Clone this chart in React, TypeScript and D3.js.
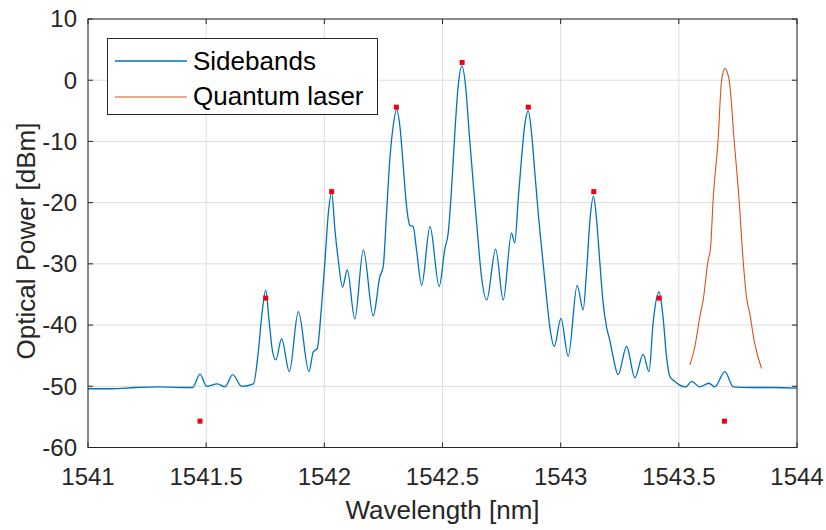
import React from "react";
import * as d3 from "d3";

// Sidebands trace (wavelength nm, optical power dBm)
const sideWl = [
  1541.0, 1541.1, 1541.2, 1541.3, 1541.4, 1541.443, 1541.474, 1541.502, 1541.547, 1541.58,
  1541.612, 1541.65, 1541.7, 1541.72, 1541.735, 1541.752, 1541.766, 1541.78, 1541.795, 1541.819,
  1541.852, 1541.89, 1541.935, 1541.953, 1541.97, 1541.989, 1542.003, 1542.017, 1542.031, 1542.045,
  1542.059, 1542.077, 1542.097, 1542.129, 1542.165, 1542.207, 1542.235, 1542.249, 1542.264, 1542.277,
  1542.291, 1542.306, 1542.32, 1542.334, 1542.348, 1542.362, 1542.376, 1542.39, 1542.412, 1542.447,
  1542.486, 1542.51, 1542.524, 1542.538, 1542.552, 1542.566, 1542.582, 1542.598, 1542.613, 1542.63,
  1542.647, 1542.665, 1542.687, 1542.725, 1542.757, 1542.792, 1542.806, 1542.82, 1542.835, 1542.849,
  1542.863, 1542.877, 1542.891, 1542.905, 1542.923, 1542.94, 1542.954, 1542.973, 1543.001, 1543.032,
  1543.07, 1543.095, 1543.11, 1543.124, 1543.139, 1543.152, 1543.166, 1543.18, 1543.194, 1543.208,
  1543.222, 1543.243, 1543.279, 1543.314, 1543.349, 1543.374, 1543.391, 1543.416, 1543.433, 1543.448,
  1543.462, 1543.483, 1543.504, 1543.53, 1543.554, 1543.589, 1543.627, 1543.652, 1543.695, 1543.73,
  1543.8, 1543.9, 1544.0,
];
const sideDbm = [
  -50.4, -50.4, -50.2, -50.1, -50.2, -50.2, -48.0, -50.0, -49.6, -50.1,
  -48.1, -50.0, -49.6, -44.6, -38.6, -34.3, -39.2, -44.1, -45.7, -42.2,
  -47.6, -37.8, -47.6, -44.4, -43.8, -36.5, -29.4, -21.7, -18.4, -24.5,
  -29.4, -33.8, -31.0, -39.0, -27.7, -38.5, -32.1, -30.5, -21.2, -13.0,
  -7.6, -4.8, -7.6, -14.1, -20.6, -23.7, -23.9, -27.7, -33.5, -23.9,
  -33.7, -27.5, -25.0, -17.9, -8.7, -1.1, 2.3, -1.1, -8.7, -16.8,
  -24.5, -32.1, -35.9, -27.6, -35.9, -25.0, -26.6, -19.6, -12.5, -7.0,
  -5.0, -8.7, -15.2, -21.7, -28.8, -35.4, -40.3, -43.5, -38.9, -45.1,
  -33.5, -37.5, -31.0, -22.8, -19.0, -22.8, -29.9, -36.5, -40.3, -42.5,
  -45.2, -48.1, -43.5, -48.6, -44.8, -47.6, -39.7, -34.6, -38.6, -45.2,
  -48.4, -49.2, -49.8, -50.1, -49.2, -50.1, -49.5, -50.1, -47.6, -50.1,
  -50.2, -50.2, -50.3,
];

// Quantum laser trace
const laserWl = [
  1543.547, 1543.568, 1543.589, 1543.603, 1543.624, 1543.634, 1543.645, 1543.666, 1543.681, 1543.695,
  1543.713, 1543.734, 1543.755, 1543.772, 1543.786, 1543.8, 1543.821, 1543.85,
];
const laserDbm = [
  -46.5, -43.5, -38.6, -35.9, -29.4, -27.5, -19.6, -9.8, 0.0, 1.9,
  0.0, -9.8, -19.6, -29.4, -35.3, -38.1, -43.0, -47.1,
];

// Red markers
const markWl = [1541.474, 1541.752, 1542.031, 1542.305, 1542.583, 1542.863, 1543.14, 1543.417, 1543.693];
const markDbm = [-55.7, -35.6, -18.2, -4.4, 2.9, -4.4, -18.2, -35.6, -55.7];

const xTicks = [1541, 1541.5, 1542, 1542.5, 1543, 1543.5, 1544];
const xTickLabels = ["1541", "1541.5", "1542", "1542.5", "1543", "1543.5", "1544"];
const yTicks = [-60, -50, -40, -30, -20, -10, 0, 10];
const yTickLabels = ["-60", "-50", "-40", "-30", "-20", "-10", "0", "10"];
const seriesNames = ["Sidebands", "Quantum laser"];

const W = 826, H = 530;
const L = 88, R = 797, T = 19, B = 447.5;
const FONT = "'Liberation Sans', Arial, Helvetica, sans-serif";
const TXT = "#262626";
const BLUE = "#0072BD";
const ORANGE = "#D95319";

export default function App() {
  const x = d3.scaleLinear().domain([1541, 1544]).range([L, R]);
  const y = d3.scaleLinear().domain([-60, 10]).range([B, T]);
  const line = d3.line<[number, number]>().x(d => x(d[0])).y(d => y(d[1])).curve(d3.curveMonotoneX);
  const sidePts = sideWl.map((w, i) => [w, sideDbm[i]] as [number, number]);
  const laserPts = laserWl.map((w, i) => [w, laserDbm[i]] as [number, number]);
  const tk = 5;
  return (
    <svg width={W} height={H} style={{ position: "absolute", left: 0, top: 0, background: "#fff" }} fontFamily={FONT}>
      <rect x={0} y={0} width={W} height={H} fill="#fff" />
      {/* grid */}
      {xTicks.map((t, i) => (
        <line key={"gx" + i} x1={x(t)} x2={x(t)} y1={T} y2={B} stroke="#dcdcdc" strokeWidth={1} />
      ))}
      {yTicks.map((t, i) => (
        <line key={"gy" + i} x1={L} x2={R} y1={y(t)} y2={y(t)} stroke="#dcdcdc" strokeWidth={1} />
      ))}
      {/* data */}
      <path d={line(sidePts) || ""} fill="none" stroke={BLUE} strokeWidth={1.3} />
      <path d={line(laserPts) || ""} fill="none" stroke={ORANGE} strokeWidth={1.1} />
      {markWl.map((w, i) => (
        <rect key={"m" + i} x={x(w) - 2.5} y={y(markDbm[i]) - 2.5} width={5} height={5} fill="#f00010" />
      ))}
      {/* box */}
      <rect x={L} y={T} width={R - L} height={B - T} fill="none" stroke={TXT} strokeWidth={1} />
      {/* ticks */}
      {xTicks.map((t, i) => (
        <g key={"tx" + i}>
          <line x1={x(t)} x2={x(t)} y1={B} y2={B - tk} stroke={TXT} />
          <line x1={x(t)} x2={x(t)} y1={T} y2={T + tk} stroke={TXT} />
          <text x={x(t)} y={485} textAnchor="middle" fontSize={24} fill={TXT}>{xTickLabels[i]}</text>
        </g>
      ))}
      {yTicks.map((t, i) => (
        <g key={"ty" + i}>
          <line x1={L} x2={L + tk} y1={y(t)} y2={y(t)} stroke={TXT} />
          <line x1={R} x2={R - tk} y1={y(t)} y2={y(t)} stroke={TXT} />
          <text x={77} y={y(t)} dy="0.35em" textAnchor="end" fontSize={24} fill={TXT}>{yTickLabels[i]}</text>
        </g>
      ))}
      {/* axis labels */}
      <text x={(L + R) / 2} y={519} textAnchor="middle" fontSize={26} fill={TXT}>Wavelength [nm]</text>
      <text transform={`translate(35,241) rotate(-90)`} textAnchor="middle" fontSize={26} fill={TXT}>Optical Power [dBm]</text>
      {/* legend */}
      <rect x={107.5} y={38.5} width={270} height={76} fill="#fff" stroke={TXT} strokeWidth={1} />
      <line x1={115} x2={187} y1={61} y2={61} stroke={BLUE} strokeWidth={1.3} />
      <line x1={115} x2={187} y1={97} y2={97} stroke={ORANGE} strokeWidth={1.1} />
      <text x={193} y={70} fontSize={26} fill="#000">{seriesNames[0]}</text>
      <text x={193} y={105} fontSize={26} fill="#000">{seriesNames[1]}</text>
    </svg>
  );
}
